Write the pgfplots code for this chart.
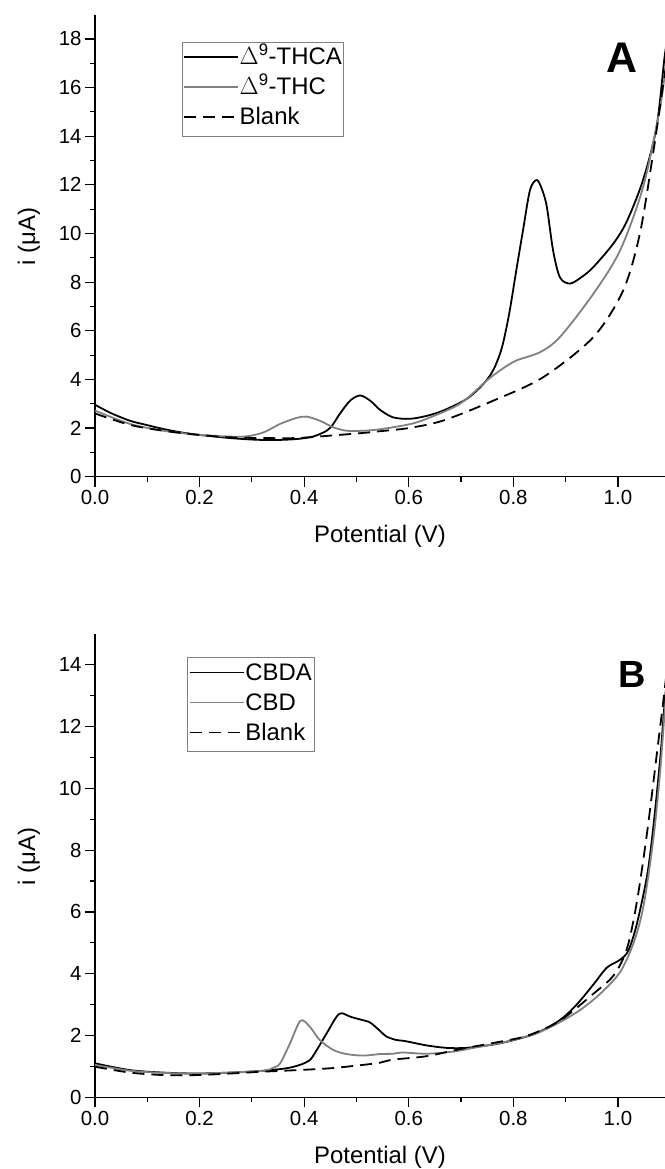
\documentclass[border=0pt]{standalone}
\usepackage{pgfplots}
\pgfplotsset{compat=1.18}
\usepackage{fontspec}
\setmainfont{Liberation Sans}
\definecolor{cgray}{RGB}{128,128,128}

\pgfplotsset{
 cvstyle/.style={
  scale only axis, width=570bp,
  axis x line=bottom, axis y line=left, axis line style={-, line width=1.3bp},
  xmin=0, xmax=1.09,
  xtick={0,0.2,0.4,0.6,0.8,1.0}, minor x tick num=1, minor y tick num=1,
  tick align=outside, major tick length=10bp, minor tick length=5bp,
  every tick/.style={line width=1.2bp, black},
  tick label style={font=\fontsize{20.5}{22}\selectfont},
  /pgf/number format/assume math mode=true,
  xticklabel style={/pgf/number format/.cd, fixed, fixed zerofill, precision=1},
  label style={font=\fontsize{24}{27}\selectfont},
  xlabel={Potential (V)}, ylabel={i (μA)},
  xlabel style={at={(axis description cs:0.5,-0.13)}, anchor=center},
  ylabel style={at={(axis description cs:-0.116,0.52)}, anchor=center},
  legend cell align=left,
  legend style={draw=cgray, line width=0.6bp, font=\fontsize{24}{27}\selectfont,
    inner xsep=1bp, inner ysep=5bp, anchor=north west,
    nodes={inner sep=1bp, text height=17bp, text depth=5bp}, row sep=6bp},
  legend image code/.code={\draw[#1] (0bp,1.5bp) -- (54bp,1.5bp);},
  clip=true,
 },
 blk/.style={black, line width=1.8bp, smooth},
 gry/.style={cgray, line width=1.8bp, smooth},
 dsh/.style={black, line width=1.8bp, dash pattern=on 12bp off 7bp, smooth},
}

\begin{document}
\begin{tikzpicture}
\path[use as bounding box] (0,0) rectangle (665bp,-1169bp);

% ---------- Panel A ----------
\begin{axis}[cvstyle, height=462.1bp, ymin=0, ymax=19, ytick={0,2,...,18},
  at={(95bp,-476.7bp)}, anchor=south west,
  legend style={at={(0.152,0.9416)}}]
\addplot[blk] table {
0.00 2.96
0.03 2.62
0.067 2.30
0.10 2.12
0.131 1.96
0.16 1.84
0.194 1.73
0.23 1.65
0.258 1.59
0.29 1.54
0.322 1.51
0.35 1.51
0.386 1.55
0.417 1.65
0.443 1.89
0.455 2.15
0.468 2.58
0.488 3.13
0.507 3.34
0.526 3.13
0.545 2.75
0.57 2.44
0.602 2.38
0.634 2.50
0.666 2.72
0.711 3.20
0.743 3.82
0.762 4.40
0.778 5.30
0.792 6.70
0.805 8.4
0.819 10.2
0.832 11.8
0.845 12.2
0.855 11.8
0.864 11.1
0.876 9.3
0.889 8.2
0.908 7.94
0.93 8.2
0.953 8.62
0.991 9.58
1.017 10.5
1.048 12.2
1.074 14.4
1.09 17.4
1.10 18.5
};
\addlegendentry{$\Delta$\textsuperscript{9}-THCA}
\addplot[gry] table {
0.00 2.72
0.067 2.17
0.131 1.89
0.194 1.73
0.258 1.65
0.29 1.66
0.322 1.82
0.354 2.17
0.386 2.42
0.405 2.47
0.43 2.30
0.456 2.03
0.481 1.89
0.513 1.89
0.545 1.95
0.60 2.15
0.634 2.38
0.698 3.00
0.749 3.95
0.78 4.45
0.806 4.78
0.851 5.12
0.889 5.74
0.953 7.52
1.004 9.3
1.048 11.9
1.08 15.1
1.09 16.6
1.10 17.8
};
\addlegendentry{$\Delta$\textsuperscript{9}-THC}
\addplot[dsh] table {
0.00 2.60
0.067 2.13
0.131 1.89
0.194 1.73
0.258 1.62
0.322 1.59
0.386 1.59
0.45 1.69
0.513 1.80
0.545 1.87
0.60 2.0
0.666 2.31
0.762 3.13
0.857 4.09
0.953 5.74
1.01 7.66
1.042 10.0
1.068 13.4
1.087 16.2
1.10 18.0
};
\addlegendentry{Blank}
\end{axis}

% ---------- Panel B ----------
\begin{axis}[cvstyle, height=463.5bp, ymin=0, ymax=15, ytick={0,2,...,14},
  at={(95bp,-1097.3bp)}, anchor=south west,
  legend style={at={(0.162,0.9506)}}]
\addplot[blk] table {
0.00 1.10
0.067 0.88
0.131 0.80
0.194 0.77
0.258 0.80
0.322 0.86
0.366 0.94
0.392 1.05
0.411 1.21
0.424 1.53
0.443 2.07
0.462 2.61
0.472 2.72
0.488 2.61
0.507 2.52
0.526 2.42
0.545 2.15
0.557 1.97
0.575 1.86
0.589 1.83
0.602 1.79
0.634 1.68
0.672 1.60
0.71 1.60
0.762 1.71
0.80 1.85
0.845 2.08
0.889 2.50
0.921 3.00
0.953 3.65
0.979 4.20
1.004 4.45
1.02 4.75
1.036 5.6
1.056 7.2
1.068 8.8
1.081 11.0
1.09 12.9
1.10 14.5
};
\addlegendentry{CBDA}
\addplot[gry] table {
0.00 1.05
0.067 0.86
0.131 0.79
0.194 0.77
0.258 0.80
0.322 0.86
0.34 0.95
0.354 1.10
0.373 1.75
0.393 2.48
0.411 2.28
0.43 1.85
0.456 1.53
0.481 1.40
0.513 1.35
0.545 1.40
0.57 1.41
0.589 1.45
0.634 1.41
0.685 1.48
0.73 1.62
0.794 1.83
0.857 2.16
0.921 2.75
0.966 3.35
1.004 4.05
1.03 5.0
1.049 6.2
1.068 8.4
1.081 10.6
1.09 12.6
1.10 14.3
};
\addlegendentry{CBD}
\addplot[dsh] table {
0.00 0.99
0.067 0.80
0.131 0.72
0.194 0.72
0.258 0.77
0.322 0.83
0.386 0.88
0.45 0.94
0.513 1.05
0.545 1.12
0.57 1.22
0.634 1.33
0.698 1.56
0.762 1.76
0.826 1.99
0.889 2.48
0.953 3.35
0.992 3.95
1.017 4.8
1.036 6.3
1.056 8.6
1.075 11.2
1.088 13.0
1.10 14.8
};
\addlegendentry{Blank}
\end{axis}

\node[font=\fontsize{43}{43}\selectfont\bfseries] at (621.7bp,-57.5bp) {A};
\node[font=\fontsize{38}{38}\selectfont\bfseries] at (632bp,-674bp) {B};
\end{tikzpicture}
\end{document}
